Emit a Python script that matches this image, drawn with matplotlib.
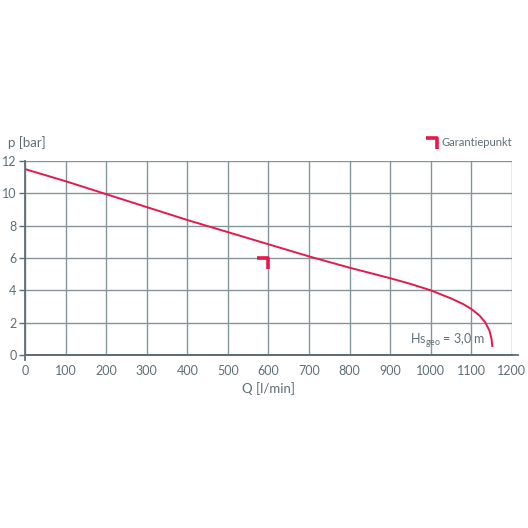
import matplotlib
matplotlib.use("Agg")
import matplotlib.pyplot as plt
from matplotlib.path import Path

plt.rcParams['font.family'] = ['Lato', 'DejaVu Sans']

# Kennlinie
q = [0, 100, 200, 300, 400, 500, 600, 700, 800, 900, 950, 1000,
     1050, 1080, 1100, 1120, 1135, 1145, 1150, 1152]
p = [11.5, 10.75, 9.95, 9.15, 8.35, 7.6, 6.85, 6.1, 5.4, 4.75, 4.4, 4.0,
     3.5, 3.15, 2.85, 2.45, 2.0, 1.5, 1.0, 0.55]

# Garantiepunkt
garantie_q = [600]
garantie_p = [6]

x_ticks = list(range(0, 1300, 100))
y_ticks = list(range(0, 14, 2))

rot = '#e5194a'
grau = '#5f6e76'
gitter = '#85959c'

fig = plt.figure(figsize=(5.28, 5.28), dpi=100)
ax = fig.add_axes([0.0473, 0.3277, 0.922, 0.3674])

ecke = Path([(-1, 0), (0, 0), (0, -1)], [Path.MOVETO, Path.LINETO, Path.LINETO])

ax.plot(q, p, color=rot, lw=1.4, solid_joinstyle='round')
ax.plot(garantie_q, garantie_p, linestyle='none', marker=ecke, markersize=16,
        markerfacecolor='none', markeredgecolor=rot, markeredgewidth=2.6)

ax.set_xlim(0, 1200)
ax.set_ylim(0, 12)
ax.set_xticks(x_ticks)
ax.set_yticks(y_ticks)
ax.grid(True, color=gitter, lw=1.0)
ax.set_axisbelow(True)

for s in ['top', 'right']:
    ax.spines[s].set_visible(False)
for s in ['left', 'bottom']:
    ax.spines[s].set_color(grau)
    ax.spines[s].set_linewidth(1.3)

# Achsen etwas verlaengern
ax.plot([0, 1.012], [0, 0], transform=ax.transAxes, color=grau, lw=1.3, clip_on=False)
ax.plot([0, 0], [-0.025, 0], transform=ax.transAxes, color=grau, lw=1.3, clip_on=False)

ax.tick_params(axis='y', length=4, width=1.0, color=grau, labelcolor=grau, labelsize=9, pad=2)
ax.tick_params(axis='x', length=0, labelcolor=grau, labelsize=9, pad=7)

ax.set_xlabel('Q [l/min]', color=grau, fontsize=9.5, labelpad=4)
ax.text(-0.035, 1.095, 'p [bar]', transform=ax.transAxes, color=grau, fontsize=9.5,
        ha='left', va='center')

# Legende
ax.plot([0.846], [1.12], transform=ax.transAxes, linestyle='none', marker=ecke,
        markersize=16, markerfacecolor='none', markeredgecolor=rot,
        markeredgewidth=2.6, clip_on=False)
ax.text(1.0, 1.095, 'Garantiepunkt', transform=ax.transAxes, color=grau, fontsize=8,
        ha='right', va='center')

ax.text(1135, 0.9, r'Hs$_\mathregular{geo}$ = 3,0 m', color=grau, fontsize=9,
        ha='right', va='center')

fig.savefig('out.png', dpi=100, facecolor='white')
